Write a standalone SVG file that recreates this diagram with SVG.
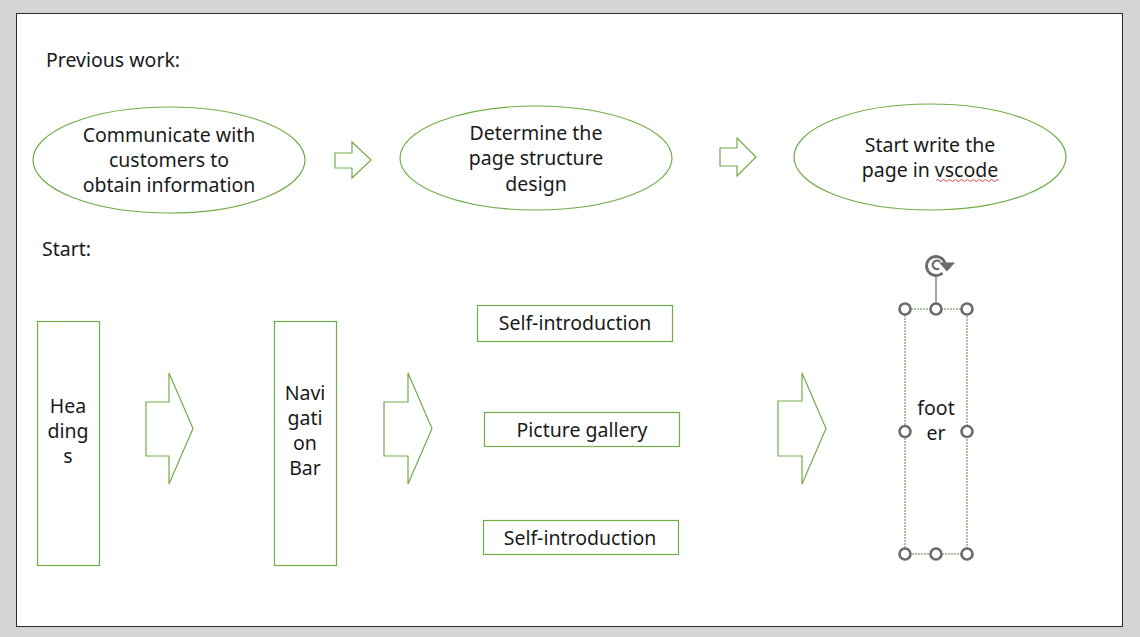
<svg xmlns="http://www.w3.org/2000/svg" width="1140" height="637" viewBox="0 0 1140 637">
<style>
.sh{fill:none;stroke:#70AD47;stroke-width:1.2}
.t{font-family:"Noto Sans","Open Sans","Liberation Sans",sans-serif;font-size:19.5px;fill:#1a1a1a}
.m{text-anchor:middle}
.h{fill:#fff;stroke:#6b6b6b;stroke-width:2.6}
</style>
<rect x="0" y="0" width="1140" height="637" fill="#d4d4d4"/>
<rect x="16.5" y="13.5" width="1106" height="613" fill="#fff" stroke="#2b2b2b" stroke-width="1"/>
<text class="t" x="46" y="67">Previous work:</text>
<text class="t" x="42" y="256">Start:</text>

<g id="n1"><ellipse class="sh" cx="169" cy="160" rx="136" ry="53"/>
<text class="t m" x="169" y="142">Communicate with</text><text class="t m" x="169" y="167">customers to</text><text class="t m" x="169" y="192">obtain information</text></g>
<g id="n2"><ellipse class="sh" cx="536" cy="158" rx="136" ry="52"/>
<text class="t m" x="536" y="140">Determine the</text><text class="t m" x="536" y="165">page structure</text><text class="t m" x="536" y="191">design</text></g>
<g id="n3"><ellipse class="sh" cx="930" cy="157" rx="136" ry="53"/>
<text class="t m" x="930" y="152">Start write the</text><text class="t m" x="930" y="177">page in vscode</text>
<path d="M936 180.5 q1.5 -2 3 0 t3 0 t3 0 t3 0 t3 0 t3 0 t3 0 t3 0 t3 0 t3 0 t3 0 t3 0 t3 0 t3 0 t3 0 t3 0 t3 0 t3 0 t3 0 t3 0 t3 0" fill="none" stroke="#e03030" stroke-width="0.9"/></g>

<g id="n4"><rect class="sh" x="37.5" y="321.5" width="62" height="244"/>
<text class="t m" x="68" y="413">Hea</text><text class="t m" x="68" y="438">ding</text><text class="t m" x="68" y="463">s</text></g>
<g id="n5"><rect class="sh" x="274.5" y="321.5" width="62" height="244"/>
<text class="t m" x="305" y="400">Navi</text><text class="t m" x="305" y="425">gati</text><text class="t m" x="305" y="450">on</text><text class="t m" x="305" y="475">Bar</text></g>
<g id="n6"><rect class="sh" x="477.5" y="305.5" width="195" height="36"/>
<text class="t m" x="575" y="330">Self-introduction</text></g>
<g id="n7"><rect class="sh" x="484.5" y="412.5" width="195" height="34"/>
<text class="t m" x="582" y="437">Picture gallery</text></g>
<g id="n8"><rect class="sh" x="483.5" y="520.5" width="195" height="34"/>
<text class="t m" x="580" y="545">Self-introduction</text></g>
<g id="n9"><rect x="905" y="309" width="62" height="245" fill="none" stroke="#5f7f45" stroke-width="1" stroke-dasharray="2 1"/>
<text class="t m" x="936" y="415">foot</text><text class="t m" x="936" y="440">er</text>
<line x1="936" y1="277" x2="936" y2="309" stroke="#6b6b6b" stroke-width="1.2"/>
<path d="M942.5 273 A9.5 9.5 0 1 1 945 263" fill="none" stroke="#6b6b6b" stroke-width="2.8"/>
<path d="M939 268.5 A4.2 4.2 0 1 1 940 262" fill="none" stroke="#6b6b6b" stroke-width="2.2"/>
<path d="M939 262.5 L955 262.5 L947 271.5 Z" fill="#6b6b6b"/>
<circle class="h" cx="905" cy="309" r="5.5"/><circle class="h" cx="936" cy="309" r="5.5"/><circle class="h" cx="967" cy="309" r="5.5"/>
<circle class="h" cx="905" cy="431.5" r="5.5"/><circle class="h" cx="967" cy="431.5" r="5.5"/>
<circle class="h" cx="905" cy="554" r="5.5"/><circle class="h" cx="936" cy="554" r="5.5"/><circle class="h" cx="967" cy="554" r="5.5"/></g>

<g id="connectors">
<path class="sh" d="M335 153 H352 V142 L371 160 L352 178 V168 H335 Z"/>
<path class="sh" d="M720 148 H737 V138 L756 157 L737 176 V166 H720 Z"/>
<path class="sh" d="M146 402 H169 V373 L193 428.5 L169 484 V456 H146 Z"/>
<path class="sh" d="M384 402 H408 V373 L432 428.5 L408 484 V456 H384 Z"/>
<path class="sh" d="M778 401 H802 V373 L826 428.5 L802 484 V456 H778 Z"/>
</g>
</svg>
